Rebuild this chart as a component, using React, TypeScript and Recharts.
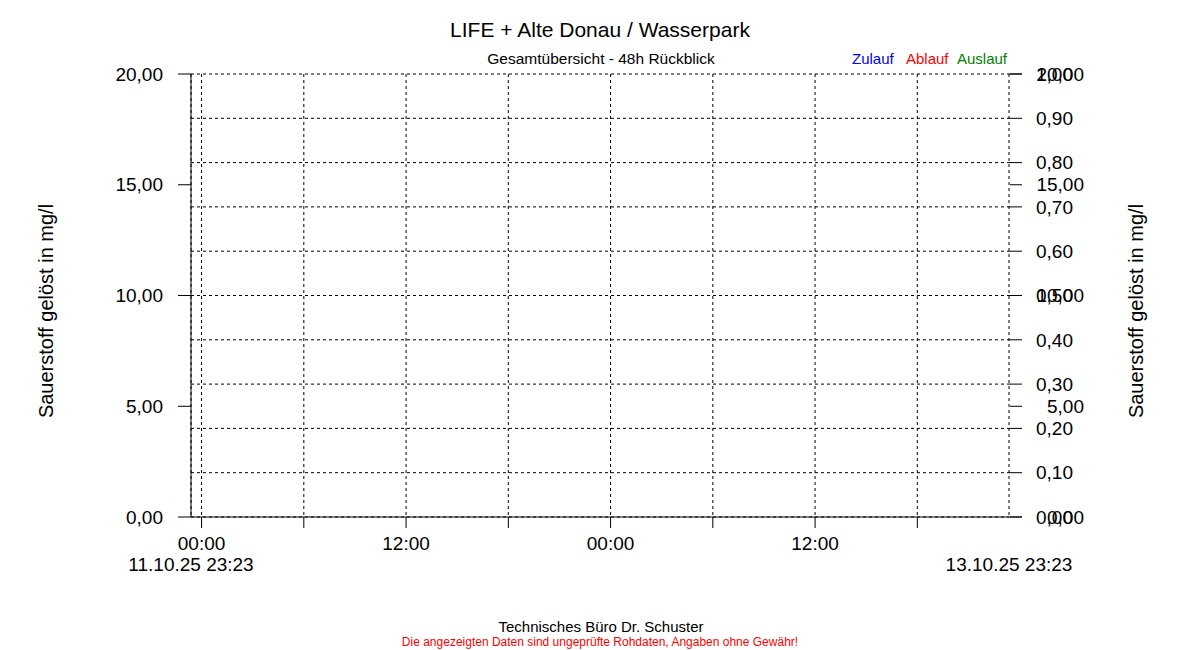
import React from "react";
import { ComposedChart, Line, XAxis, YAxis, CartesianGrid } from "recharts";

const FONT = "'Liberation Sans', Arial, sans-serif";

// 48h window, hours since 11.10.25 23:23 (no measurements in the window)
const TIME_POINTS = [0, 48];
const ZULAUF: (number | null)[] = [null, null];
const ABLAUF: (number | null)[] = [null, null];
const AUSLAUF: (number | null)[] = [null, null];

const HOUR_TICKS = [0.62, 6.62, 12.62, 18.62, 24.62, 30.62, 36.62, 42.62];
const HOUR_LABELS = ["00:00", "", "12:00", "", "00:00", "", "12:00", ""];
const DATE_TICKS = [0, 48];
const DATE_LABELS = ["11.10.25 23:23", "13.10.25 23:23"];

const MG_TICKS = [0, 5, 10, 15, 20];
const FRACTION_TICKS = [0, 0.1, 0.2, 0.3, 0.4, 0.5, 0.6, 0.7, 0.8, 0.9, 1];

const SERIES = [
  { key: "zulauf", name: "Zulauf", color: "#0000FF" },
  { key: "ablauf", name: "Ablauf", color: "#FF0000" },
  { key: "auslauf", name: "Auslauf", color: "#008000" },
];

const fmt = (v: number) => v.toFixed(2).replace(".", ",");

const tickStyle = { fontSize: 19, fill: "#000", fontFamily: FONT };

// right-aligned labels for the second (mg/l) axis on the right side
function RightMgTick(props: any) {
  const { x, y, payload } = props;
  return (
    <text
      x={x}
      y={y}
      dy="0.355em"
      textAnchor="end"
      fontSize={19}
      fontFamily={FONT}
      fill="#000"
    >
      {fmt(payload.value)}
    </text>
  );
}

export default function App() {
  const data = TIME_POINTS.map((t, i) => ({
    t,
    zulauf: ZULAUF[i],
    ablauf: ABLAUF[i],
    auslauf: AUSLAUF[i],
  }));

  return (
    <div
      style={{
        position: "absolute",
        left: 0,
        top: 0,
        width: 1200,
        height: 650,
        background: "#fff",
        fontFamily: FONT,
      }}
    >
      <ComposedChart
        width={1200}
        height={650}
        data={data}
        margin={{ top: 74, right: 111, bottom: 68, left: 0 }}
      >
        <CartesianGrid
          xAxisId="hours"
          yAxisId="frac"
          stroke="#000"
          strokeDasharray="3 3"
        />
        <XAxis
          xAxisId="hours"
          dataKey="t"
          type="number"
          domain={[0, 48]}
          allowDataOverflow
          ticks={HOUR_TICKS}
          interval={0}
          tickFormatter={(v: number) => HOUR_LABELS[HOUR_TICKS.indexOf(v)] ?? ""}
          height={40}
          tickSize={11}
          tickMargin={9}
          stroke="#000"
          tick={tickStyle}
        />
        <XAxis
          xAxisId="stamp"
          dataKey="t"
          type="number"
          domain={[0, 48]}
          allowDataOverflow
          ticks={DATE_TICKS}
          interval={0}
          tickFormatter={(v: number) => DATE_LABELS[DATE_TICKS.indexOf(v)] ?? ""}
          height={25}
          axisLine={false}
          tickLine={false}
          tickSize={0}
          tickMargin={1}
          tick={tickStyle}
        />
        <YAxis
          yAxisId="left"
          type="number"
          domain={[0, 20]}
          allowDataOverflow
          ticks={MG_TICKS}
          interval={0}
          tickFormatter={fmt}
          width={191}
          tickSize={13}
          tickMargin={15}
          stroke="#000"
          tick={tickStyle}
        />
        <YAxis
          yAxisId="frac"
          type="number"
          orientation="right"
          domain={[0, 1]}
          allowDataOverflow
          ticks={FRACTION_TICKS}
          interval={0}
          tickFormatter={fmt}
          width={1}
          axisLine={false}
          tickSize={13}
          tickMargin={14}
          stroke="#000"
          tick={tickStyle}
        />
        <YAxis
          yAxisId="mgRight"
          type="number"
          orientation="right"
          domain={[0, 20]}
          allowDataOverflow
          ticks={MG_TICKS}
          interval={0}
          width={79}
          axisLine={false}
          tickSize={12}
          tickMargin={62}
          stroke="#000"
          tick={<RightMgTick />}
        />
        {SERIES.map((s) => (
          <Line
            key={s.key}
            xAxisId="hours"
            yAxisId="left"
            dataKey={s.key}
            name={s.name}
            stroke={s.color}
            dot={false}
            connectNulls={false}
            isAnimationActive={false}
          />
        ))}
      </ComposedChart>

      <svg
        width={1200}
        height={650}
        style={{ position: "absolute", left: 0, top: 0, pointerEvents: "none" }}
        fontFamily={FONT}
      >
        <text x={600} y={37} textAnchor="middle" fontSize={21} fill="#000">
          LIFE + Alte Donau / Wasserpark
        </text>
        <text x={601} y={64} textAnchor="middle" fontSize={15.5} fill="#000">
          Gesamtübersicht - 48h Rückblick
        </text>
        <text x={852} y={64} fontSize={15} fill={SERIES[0].color}>
          {SERIES[0].name}
        </text>
        <text x={906} y={64} fontSize={15} fill={SERIES[1].color}>
          {SERIES[1].name}
        </text>
        <text x={957} y={64} fontSize={15} fill={SERIES[2].color}>
          {SERIES[2].name}
        </text>
        <text
          x={53}
          y={311}
          transform="rotate(-90 53 311)"
          textAnchor="middle"
          fontSize={20}
          fill="#000"
        >
          Sauerstoff gelöst in mg/l
        </text>
        <text
          x={1143}
          y={311}
          transform="rotate(-90 1143 311)"
          textAnchor="middle"
          fontSize={20}
          fill="#000"
        >
          Sauerstoff gelöst in mg/l
        </text>
        <text x={601} y={632} textAnchor="middle" fontSize={15} fill="#000">
          Technisches Büro Dr. Schuster
        </text>
        <text x={600} y={646} textAnchor="middle" fontSize={12} fill="#FF0000">
          Die angezeigten Daten sind ungeprüfte Rohdaten, Angaben ohne Gewähr!
        </text>
      </svg>
    </div>
  );
}
